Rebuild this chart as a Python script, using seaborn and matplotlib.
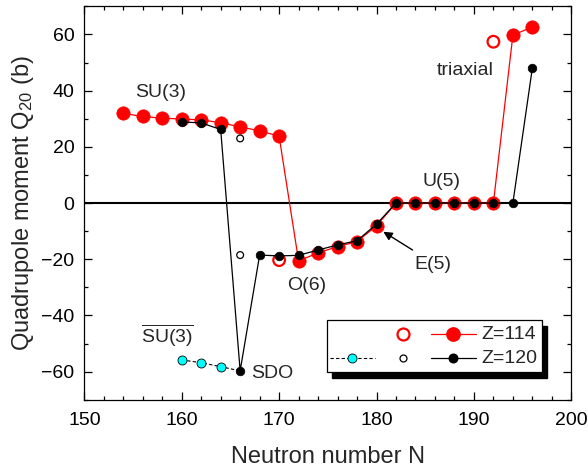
import matplotlib
matplotlib.use("Agg")
import matplotlib.pyplot as plt
import seaborn as sns
import pandas as pd
from matplotlib.ticker import MultipleLocator
from matplotlib.patches import Rectangle

# ---------------- data ----------------
n114 = [154, 156, 158, 160, 162, 164, 166, 168, 170, 172, 174, 176, 178, 180,
        182, 184, 186, 188, 190, 192, 194, 196]
q114 = [31.9, 30.8, 30.2, 29.9, 29.6, 28.6, 27.1, 25.7, 23.8, -20.6, -17.7, -15.5, -13.7, -8.1,
        0, 0, 0, 0, 0, 0, 59.7, 62.7]

n120 = [160, 162, 164, 166, 168, 170, 172, 174, 176, 178, 180,
        182, 184, 186, 188, 190, 192, 194, 196]
q120 = [28.9, 28.5, 26.2, -59.7, -18.5, -18.8, -18.6, -16.7, -14.9, -13.4, -7.5,
        0, 0, 0, 0, 0, 0, 0, 48.0]

open114_n = [170, 192]
open114_q = [-20.3, 57.4]
open120_n = [166, 166]
open120_q = [23.0, -18.5]

su3bar_n = [160, 162, 164]
su3bar_q = [-55.8, -56.8, -58.2]
sdo_n = 166
sdo_q = q120[n120.index(sdo_n)]

xticks = [150, 160, 170, 180, 190, 200]
yticks = [-60, -40, -20, 0, 20, 40, 60]

# ---------------- style ----------------
sns.set_style("ticks")
plt.rcParams['font.family'] = ['Liberation Sans', 'DejaVu Sans']
plt.rcParams['mathtext.fontset'] = 'custom'
plt.rcParams['mathtext.rm'] = 'Liberation Sans'
plt.rcParams['mathtext.it'] = 'Liberation Sans:italic'

fig = plt.figure(figsize=(5.88, 4.68), dpi=100)
ax = fig.add_axes([0.1434, 0.1457, 0.8282, 0.8408])

ax.axhline(0, color='black', lw=1.5, zorder=1)

# Z=114 line + filled markers
sns.lineplot(x=n114, y=q114, color='red', lw=0.9, marker='o', markersize=9.6,
             markeredgecolor='red', markeredgewidth=0.5, estimator=None, sort=False,
             ax=ax, zorder=3)
# Z=114 open markers
sns.scatterplot(x=open114_n, y=open114_q, color='red', facecolor='none', edgecolor='red',
                linewidth=1.6, s=70, ax=ax, zorder=3)

# SU(3)-bar dashed branch
dash_n = su3bar_n + [sdo_n]
dash_q = su3bar_q + [sdo_q]
sns.lineplot(x=dash_n, y=dash_q, color='black', lw=0.8, estimator=None, sort=False,
             ax=ax, zorder=4, dashes=False, linestyle=(0, (3, 2)))
sns.scatterplot(x=su3bar_n, y=su3bar_q, color='#00FFFF', edgecolor='black',
                linewidth=0.6, s=42, ax=ax, zorder=5)

# Z=120 line + filled markers
sns.lineplot(x=n120, y=q120, color='black', lw=0.9, marker='o', markersize=6.2,
             markeredgecolor='black', markeredgewidth=0.5, estimator=None, sort=False,
             ax=ax, zorder=5)
sns.scatterplot(x=open120_n, y=open120_q, color='black', facecolor='none', edgecolor='black',
                linewidth=0.9, s=24, ax=ax, zorder=5)

# ---------------- axes ----------------
ax.set_xlim(150, 200)
ax.set_ylim(-70, 70)
ax.set_xticks(xticks)
ax.set_yticks(yticks)
ax.xaxis.set_minor_locator(MultipleLocator(2))
ax.yaxis.set_minor_locator(MultipleLocator(10))
ax.tick_params(which='both', direction='in', top=True, right=True, width=0.9, colors='black')
ax.tick_params(which='major', length=5.5, labelsize=14, pad=7)
ax.tick_params(axis='x', which='major', pad=9)
ax.tick_params(which='minor', length=3)
for s in ax.spines.values():
    s.set_linewidth(0.9)
    s.set_color('black')

ax.set_xlabel('Neutron number N', fontsize=17, labelpad=12)
ax.set_ylabel(r'Quadrupole moment Q$_{\mathregular{20}}$ (b)', fontsize=17, labelpad=4)

# ---------------- annotations ----------------
fs = 14
ax.text(157.85, 37.9, 'SU(3)', fontsize=fs, ha='center', va='baseline')
ax.text(172.85, -30.9, 'O(6)', fontsize=fs, ha='center', va='baseline')
ax.text(186.7, 6.0, 'U(5)', fontsize=fs, ha='center', va='baseline')
ax.text(185.8, -23.3, 'E(5)', fontsize=fs, ha='center', va='baseline')
ax.text(189.1, 45.5, 'triaxial', fontsize=fs, ha='center', va='baseline')
ax.text(167.1, -62.4, 'SDO', fontsize=fs, ha='left', va='baseline')
ax.text(158.5, -49.8, r'$\overline{\mathregular{SU(3)}}$', fontsize=fs, ha='center', va='baseline')
ax.annotate('', xy=(180.7, -10.2), xytext=(183.7, -16.7),
            arrowprops=dict(arrowstyle='-|>', color='black', lw=1.0, mutation_scale=13,
                            shrinkA=0, shrinkB=0))

# ---------------- legend (manual) ----------------
T = ax.transAxes
bx, by, bw, bh = 0.499, 0.0699, 0.44, 0.1329
ax.add_patch(Rectangle((bx + 0.0103, by - 0.0152), bw, bh, transform=T,
                       facecolor='black', edgecolor='black', zorder=10))
ax.add_patch(Rectangle((bx, by), bw, bh, transform=T,
                       facecolor='white', edgecolor='black', lw=0.9, zorder=11))
r1, r2 = 0.1672, 0.1055
ax.plot([0.6538], [r1], transform=T, marker='o', ms=8.6, mfc='none', mec='red', mew=1.6,
        ls='none', zorder=12)
ax.plot([0.712, 0.804], [r1, r1], transform=T, color='red', lw=0.9, zorder=12)
ax.plot([0.7577], [r1], transform=T, marker='o', ms=9.6, color='red', ls='none', zorder=12)
ax.text(0.8158, r1, 'Z=114', transform=T, fontsize=fs, ha='left', va='center', zorder=12)

ax.plot([0.5045, 0.5971], [r2, r2], transform=T, color='black', lw=0.8,
        ls=(0, (3, 2)), zorder=12)
ax.plot([0.5503], [r2], transform=T, marker='o', ms=6.5, mfc='#00FFFF', mec='black', mew=0.6,
        ls='none', zorder=13)
ax.plot([0.655], [r2], transform=T, marker='o', ms=5, mfc='none', mec='black', mew=0.9,
        ls='none', zorder=12)
ax.plot([0.712, 0.804], [r2, r2], transform=T, color='black', lw=0.9, zorder=12)
ax.plot([0.7577], [r2], transform=T, marker='o', ms=6.2, color='black', ls='none', zorder=12)
ax.text(0.8158, r2, 'Z=120', transform=T, fontsize=fs, ha='left', va='center', zorder=12)

fig.savefig('out.png', dpi=100)
